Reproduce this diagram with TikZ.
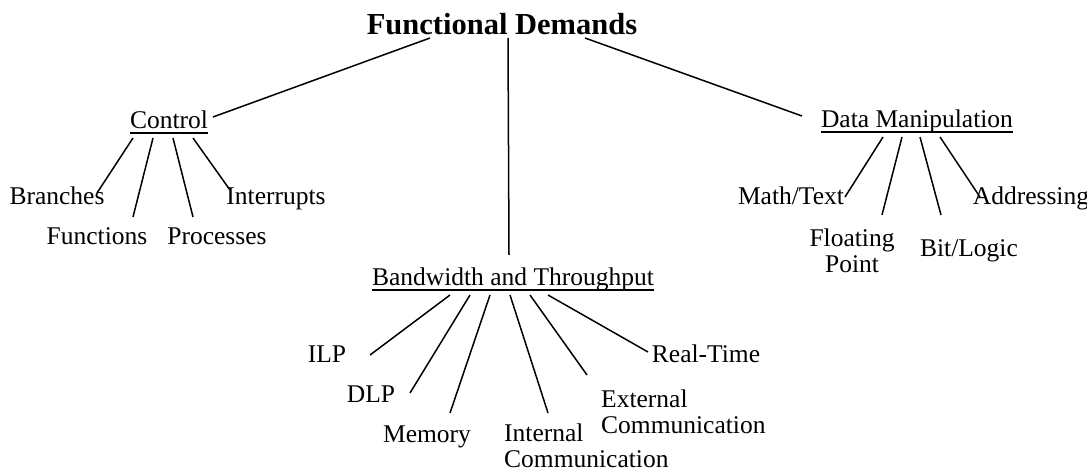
\documentclass[tikz,border=0pt]{standalone}
\usepackage{fontspec}
\setmainfont{Liberation Serif}
\usetikzlibrary{calc}
\tikzset{
  lbl/.style={inner sep=0pt, anchor=base, font=\fontsize{25.5}{26}\selectfont},
  head/.style={lbl, font=\fontsize{30.5}{32}\bfseries\selectfont},
  branch/.style={line width=1.5pt},
  uline/.style={line width=1.2pt}
}
\begin{document}
\begin{tikzpicture}[x=1pt, y=-1pt]
  \useasboundingbox (0,0) rectangle (1087,470);

  % root
  \node[head] (fd) at (502,35) {Functional Demands};

  % second level
  \node[lbl] (ctl) at (169,129) {Control};
  \node[lbl] (bw)  at (513,286) {Bandwidth and Throughput};
  \node[lbl] (dm)  at (917,128) {Data Manipulation};
  \foreach \n in {ctl,bw,dm}
    \draw[uline] ($(\n.base west)+(0,4)$) -- ($(\n.base east)+(0,4)$);

  % Control leaves
  \node[lbl] (br) at (57,205)  {Branches};
  \node[lbl] (fn) at (97,245)  {Functions};
  \node[lbl] (pr) at (217,245) {Processes};
  \node[lbl] (ir) at (276,205) {Interrupts};

  % Data Manipulation leaves (two-line nodes sit on their last line)
  \node[lbl] (mt) at (791,205) {Math/Text};
  \node[lbl, align=center] (fp) at (852,273) {Floating\\Point};
  \node[lbl] (bl) at (969,257) {Bit/Logic};
  \node[lbl] (ad) at (1031,205) {Addressing};

  % Bandwidth and Throughput leaves
  \node[lbl] (ilp) at (327,362) {ILP};
  \node[lbl] (dlp) at (371,402) {DLP};
  \node[lbl] (mem) at (427,442) {Memory};
  \node[lbl, anchor=base west, align=left] (ic) at (504,467) {Internal\\Communication};
  \node[lbl, anchor=base west, align=left] (ec) at (601,433) {External\\Communication};
  \node[lbl] (rt) at (706,362) {Real-Time};

  % root branches
  \draw[branch] ($(fd.base)+(-72,3)$) -- ($(ctl.base)+(44,-12)$);
  \draw[branch] ($(fd.base)+(6,3)$)   -- ($(bw.base)+(-4,-31)$);
  \draw[branch] ($(fd.base)+(83,3)$)  -- ($(dm.base)+(-115,-12)$);

  % Control branches
  \draw[branch] ($(ctl.base)+(-36,9)$) -- ($(br.base)+(40,-12)$);
  \draw[branch] ($(ctl.base)+(-16,9)$) -- ($(fn.base)+(36,-28)$);
  \draw[branch] ($(ctl.base)+(4,9)$)   -- ($(pr.base)+(-24,-28)$);
  \draw[branch] ($(ctl.base)+(24,9)$)  -- ($(ir.base)+(-46,-15)$);

  % Data Manipulation branches
  \draw[branch] ($(dm.base)+(-34,9)$) -- ($(mt.base)+(54,-8)$);
  \draw[branch] ($(dm.base)+(-15,9)$) -- ($(fp.base)+(30,-58)$);
  \draw[branch] ($(dm.base)+(3,9)$)   -- ($(bl.base)+(-28,-42)$);
  \draw[branch] ($(dm.base)+(23,9)$)  -- ($(ad.base)+(-51,-8)$);

  % Bandwidth and Throughput branches
  \draw[branch] ($(bw.base)+(-63,9)$) -- ($(ilp.base)+(43,-7)$);
  \draw[branch] ($(bw.base)+(-43,9)$) -- ($(dlp.base)+(39,-9)$);
  \draw[branch] ($(bw.base)+(-23,9)$) -- ($(mem.base)+(23,-29)$);
  \draw[branch] ($(bw.base)+(-3,9)$)  -- ($(ic.base west)+(44,-54)$);
  \draw[branch] ($(bw.base)+(17,9)$)  -- ($(ec.base west)+(-14,-58)$);
  \draw[branch] ($(bw.base)+(35,9)$)  -- ($(rt.base)+(-58,-10)$);
\end{tikzpicture}
\end{document}
